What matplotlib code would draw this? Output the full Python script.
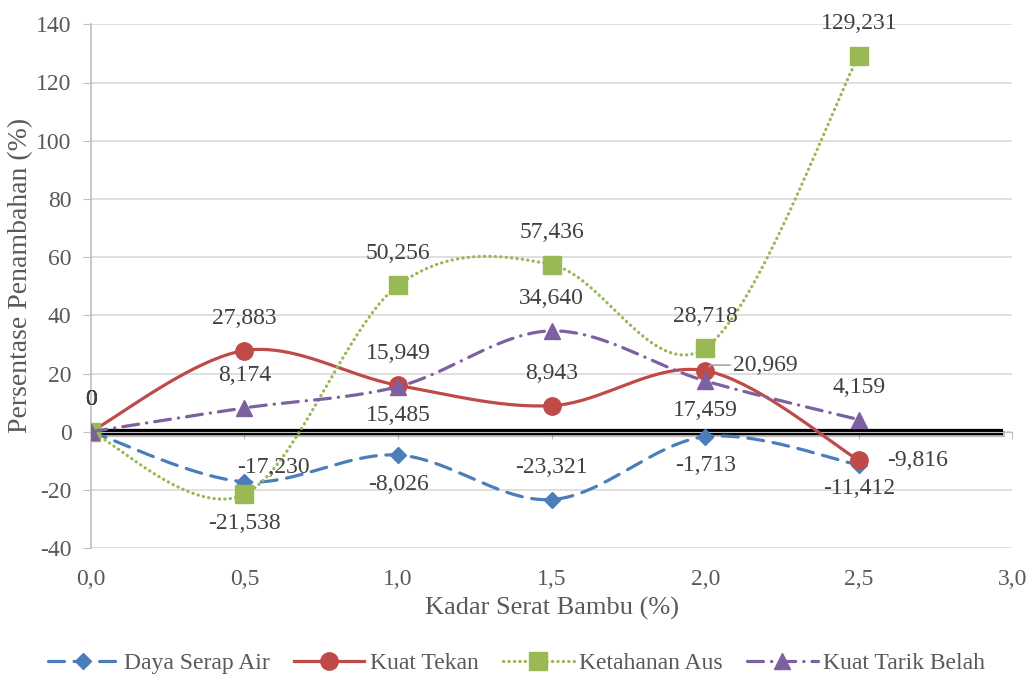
import numpy as np
import matplotlib
matplotlib.use("Agg")
import matplotlib.pyplot as plt
import matplotlib.patheffects as pe

plt.rcParams['font.family'] = ['Liberation Serif', 'DejaVu Serif']

# fibre content (%) and percentage increase of each property
kadar = [0.0, 0.5, 1.0, 1.5, 2.0, 2.5]
daya_serap_air = [0, -17.230, -8.026, -23.321, -1.713, -11.412]
kuat_tekan = [0, 27.883, 15.949, 8.943, 20.969, -9.816]
ketahanan_aus = [0, -21.538, 50.256, 57.436, 28.718, 129.231]
kuat_tarik_belah = [0, 8.174, 15.485, 34.640, 17.459, 4.159]

x_ticks = [0.0, 0.5, 1.0, 1.5, 2.0, 2.5, 3.0]
y_ticks = [-40, -20, 0, 20, 40, 60, 80, 100, 120, 140]
ref_line_end = 2.97

text_grey = '#595959'
axis_grey = '#BFBFBF'
grid_grey = '#D9D9D9'


def smooth(xs, ys, n=40):
    """Bezier smoothing through the points, like a spreadsheet 'smoothed line'."""
    p = np.column_stack([xs, ys]).astype(float)
    out = []
    for i in range(len(p) - 1):
        p0 = p[i - 1] if i > 0 else p[i]
        p1, p2 = p[i], p[i + 1]
        p3 = p[i + 2] if i + 2 < len(p) else p[i + 1]
        c1 = p1 + (p2 - p0) / 6.0
        c2 = p2 - (p3 - p1) / 6.0
        t = np.linspace(0, 1, n, endpoint=False)[:, None]
        seg = ((1 - t) ** 3) * p1 + 3 * ((1 - t) ** 2) * t * c1 \
            + 3 * (1 - t) * t ** 2 * c2 + t ** 3 * p2
        out.append(seg)
    out.append(p[-1:])
    curve = np.vstack(out)
    return curve[:, 0], curve[:, 1], [k * n for k in range(len(p))]


def fmt(v):
    if v == 0:
        return '0'
    return f'{v:.3f}'.replace('.', ',')


fig = plt.figure(figsize=(10.33, 6.75), dpi=100)
ax = fig.add_axes([0.088, 0.188, 0.892, 0.776])

series = [
    ('Daya Serap Air', daya_serap_air, '#4A7EBB', (0, (5, 3)), 'D', 8.5),
    ('Kuat Tekan', kuat_tekan, '#BE4B48', '-', 'o', 12.5),
    ('Ketahanan Aus', ketahanan_aus, '#98B954', (0, (0.1, 1.6)), 's', 12.5),
    ('Kuat Tarik Belah', kuat_tarik_belah, '#7D60A0', (0, (5, 2.5, 0.1, 2.5)), '^', 11),
]

for i, (name, vals, col, ls, mk, ms) in enumerate(series):
    sx, sy, idx = smooth(kadar, vals)
    ax.plot(sx, sy, color=col, lw=2.3, linestyle=ls, dash_capstyle='round',
            marker=mk, markersize=ms, markevery=idx, markerfacecolor=col,
            markeredgecolor=col, label=name, zorder=3 + i)

# thick reference line along zero
ax.hlines(0, kadar[0], ref_line_end, color='black', lw=4.5, zorder=2.5,
          path_effects=[pe.SimpleLineShadow(offset=(1.5, -1.5), alpha=0.25),
                        pe.Normal()])

# data label offsets in points, one per point of each series
up = (0, 23)
down = (0, -21)
label_offsets = {
    'Daya Serap Air': [up, (21, 10), down, (0, 23), down, (0, -17)],
    'Kuat Tekan': [up, up, up, up, None, (42, 0)],
    'Ketahanan Aus': [up, down, up, up, up, up],
    'Kuat Tarik Belah': [up, up, down, up, down, up],
}
for name, vals, col, ls, mk, ms in series:
    for xv, yv, off in zip(kadar, vals, label_offsets[name]):
        if off is None:
            continue
        ax.annotate(fmt(yv), (xv, yv), xytext=off, textcoords='offset points',
                    ha='center', va='center', fontsize=17, color='#404040',
                    zorder=10)

# label with leader line for Kuat Tekan at 2,0
ax.annotate(fmt(kuat_tekan[4]), (kadar[4], kuat_tekan[4]), xytext=(20, 4),
            textcoords='offset points', ha='left', va='center', fontsize=17,
            color='#404040', zorder=10,
            arrowprops=dict(arrowstyle='-', color='#A6A6A6', lw=1.2,
                            shrinkA=0, shrinkB=4, relpos=(0, 0.5),
                            connectionstyle='angle,angleA=0,angleB=45,rad=0'))

ax.set_xlim(0, 3.0)
ax.set_ylim(-40, 140)
ax.set_yticks(y_ticks)
ax.set_yticklabels([str(v) for v in y_ticks])
ax.yaxis.grid(True, color=grid_grey, lw=1.2)
ax.set_axisbelow(True)

# horizontal axis crosses at zero, labels stay at the bottom
ax.spines['bottom'].set_position(('data', 0))
ax.spines['bottom'].set_color(axis_grey)
ax.spines['left'].set_color(axis_grey)
ax.spines['left'].set_linewidth(1.2)
ax.spines['top'].set_visible(False)
ax.spines['right'].set_visible(False)
ax.set_xticks(x_ticks)
ax.tick_params(axis='x', direction='out', length=5, color=axis_grey,
               labelbottom=False)
ax.tick_params(axis='y', direction='out', length=6, color=axis_grey,
               labelsize=17, labelcolor=text_grey, pad=8)

sec = ax.secondary_xaxis('bottom')
sec.set_xticks(x_ticks)
sec.set_xticklabels([f'{v:.1f}'.replace('.', ',') for v in x_ticks])
sec.tick_params(length=0, labelsize=17, labelcolor=text_grey, pad=15)
sec.spines['bottom'].set_visible(False)
sec.set_xlabel('Kadar Serat Bambu (%)', fontsize=19, color=text_grey, labelpad=5)

ax.set_ylabel('Persentase Penambahan (%)', fontsize=20, color=text_grey)
ax.yaxis.set_label_coords(-0.063, 0.52)

fig.legend(loc='center', bbox_to_anchor=(0.5, 0.017), ncol=4, frameon=False,
           fontsize=17, handlelength=3.0, columnspacing=1.0, handletextpad=0.25,
           labelcolor=text_grey)

fig.savefig('out.png', dpi=100)
